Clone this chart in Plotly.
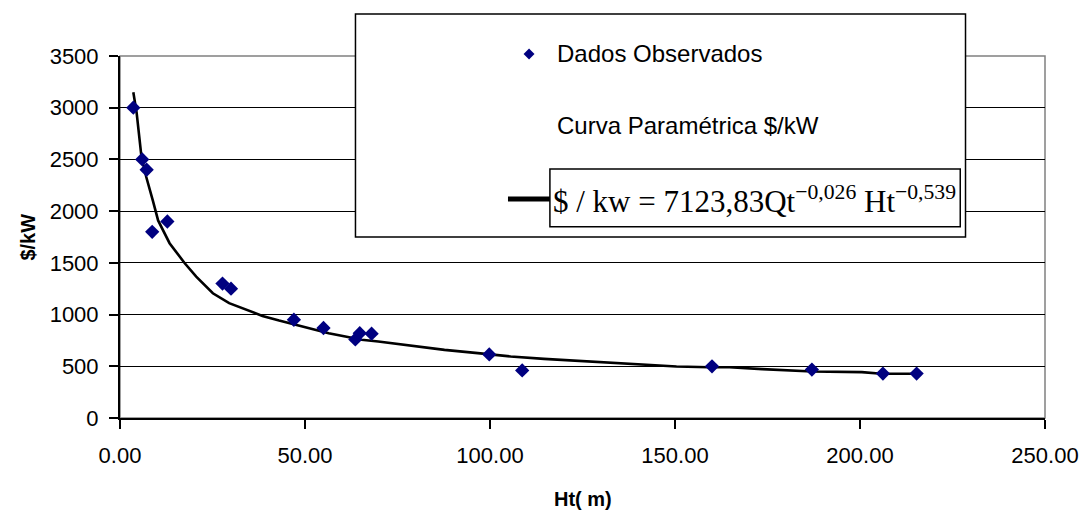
import plotly.graph_objects as go

# ---------------- data ----------------
obs_ht = [3.6, 6.0, 7.2, 8.7, 12.8, 27.7, 30.0, 47.0, 55.0, 63.6, 64.8, 68.0,
          99.8, 108.7, 160.0, 187.0, 206.2, 215.3]
obs_cost = [3000, 2500, 2400, 1800, 1900, 1300, 1250, 950, 870, 760, 820, 815,
            615, 460, 500, 468, 430, 430]

curve_ht = [3.6, 4.5, 5.8, 7.1, 8.9, 10.3, 13.4, 17.5, 20.6, 25.1, 29.5, 34.0,
            38.5, 43.0, 47.5, 51.9, 56.4, 60.9, 65.3, 69.8, 78.8, 87.7, 96.7,
            105.6, 114.6, 123.5, 132.4, 141.4, 150.4, 159.3, 164.7, 173.6,
            187.1, 200.5, 205.8, 214.8]
curve_cost = [3150, 2950, 2525, 2330, 2100, 1910, 1690, 1496, 1367, 1206, 1110,
              1045, 987, 942, 900, 859, 820, 788, 756, 740, 698, 659, 627, 595,
              572, 553, 537, 521, 498, 490, 490, 473, 450, 444, 428, 428]

x_ticks = [0, 50, 100, 150, 200, 250]
x_tick_labels = ["0.00", "50.00", "100.00", "150.00", "200.00", "250.00"]
y_ticks = [0, 500, 1000, 1500, 2000, 2500, 3000, 3500]

legend_obs = "Dados Observados"
legend_curve = "Curva Paramétrica $/kW"
formula = "$ / kw = 7123,83Qt<sup>\u22120,026</sup> Ht<sup>\u22120,539</sup>"
x_title = "Ht( m)"
y_title = "$/kW"

# ---------------- layout geometry (window pixels) ----------------
W, H = 1091, 512
L, R, T, B = 120, 1051, 56, 418          # plot area
PW, PH = R - L, B - T


def px(x):
    return (x - L) / PW


def py(y):
    return (B - y) / PH


SANS = "Liberation Sans, Arial, sans-serif"
SERIF = "Liberation Serif, Times New Roman, serif"

fig = go.Figure()
fig.add_trace(go.Scatter(x=curve_ht, y=curve_cost, mode="lines",
                         line=dict(color="black", width=2.6),
                         name=legend_curve, hoverinfo="skip"))
fig.add_trace(go.Scatter(x=obs_ht, y=obs_cost, mode="markers",
                         marker=dict(symbol="diamond", size=11, color="#000080",
                                     line=dict(width=0)),
                         name=legend_obs))

shapes = []
# plot area border (grey)
shapes.append(dict(type="rect", xref="paper", yref="paper", x0=0, x1=1, y0=0, y1=1,
                   line=dict(color="#808080", width=1.5), layer="below"))
# legend frame
shapes.append(dict(type="rect", xref="paper", yref="paper",
                   x0=px(357), x1=px(971), y0=py(237), y1=py(14),
                   line=dict(color="black", width=1.5), fillcolor="white", layer="above"))
# legend marker (diamond)
cx, cy, s = 531.7, 54, 5.5
shapes.append(dict(type="path", xref="paper", yref="paper",
                   path=f"M {px(cx)},{py(cy - s)} L {px(cx + s)},{py(cy)} L {px(cx)},{py(cy + s)} L {px(cx - s)},{py(cy)} Z",
                   fillcolor="#000080", line=dict(width=0), layer="above"))
# legend line sample
shapes.append(dict(type="line", xref="paper", yref="paper",
                   x0=px(510.5), x1=px(553), y0=py(199), y1=py(199),
                   line=dict(color="black", width=5), layer="above"))
# formula box
shapes.append(dict(type="rect", xref="paper", yref="paper",
                   x0=px(552.7), x1=px(965.7), y0=py(226.7), y1=py(169),
                   line=dict(color="black", width=1.5), fillcolor="white", layer="above"))

annotations = [
    dict(text=legend_obs, xref="paper", yref="paper", x=px(558), y=py(54),
         xanchor="left", yanchor="middle", showarrow=False,
         font=dict(family=SANS, size=24, color="black")),
    dict(text=legend_curve, xref="paper", yref="paper", x=px(558), y=py(126),
         xanchor="left", yanchor="middle", showarrow=False,
         font=dict(family=SANS, size=24, color="black")),
    dict(text=formula, xref="paper", yref="paper", x=px(554), y=py(199),
         xanchor="left", yanchor="middle", showarrow=False,
         font=dict(family=SERIF, size=31, color="black")),
    dict(text=f"<b>{x_title}</b>", xref="paper", yref="paper", x=0.5, y=py(499),
         xanchor="center", yanchor="middle", showarrow=False,
         font=dict(family=SANS, size=20, color="black")),
    dict(text=f"<b>{y_title}</b>", xref="paper", yref="paper", x=px(27), y=0.5,
         xanchor="center", yanchor="middle", showarrow=False, textangle=-90,
         font=dict(family=SANS, size=20, color="black")),
]

fig.update_layout(
    width=W, height=H,
    margin=dict(l=L, r=W - R, t=T, b=H - B, pad=0),
    paper_bgcolor="white", plot_bgcolor="white",
    showlegend=False,
    shapes=shapes, annotations=annotations,
    font=dict(family=SANS, size=22, color="black"),
)
fig.update_xaxes(range=[0, 250], tickvals=x_ticks, ticktext=x_tick_labels,
                 showgrid=False, zeroline=False, showline=True,
                 linecolor="black", linewidth=2,
                 ticks="outside", ticklen=9, tickwidth=1.5, tickcolor="black",
                 ticklabelstandoff=8, fixedrange=True,
                 tickfont=dict(family=SANS, size=22, color="black"))
fig.update_yaxes(range=[0, 3500], tickvals=y_ticks,
                 showgrid=True, gridcolor="black", gridwidth=1.2,
                 zeroline=False, showline=True, linecolor="black", linewidth=2,
                 ticks="outside", ticklen=9, tickwidth=1.5, tickcolor="black",
                 ticklabelstandoff=6, fixedrange=True,
                 tickfont=dict(family=SANS, size=22, color="black"))

# remove the default page margin so the figure fills the window exactly
fig.write_html("out.html", config={"displayModeBar": False},
               post_script="document.body.style.margin='0';document.body.style.overflow='hidden';")
